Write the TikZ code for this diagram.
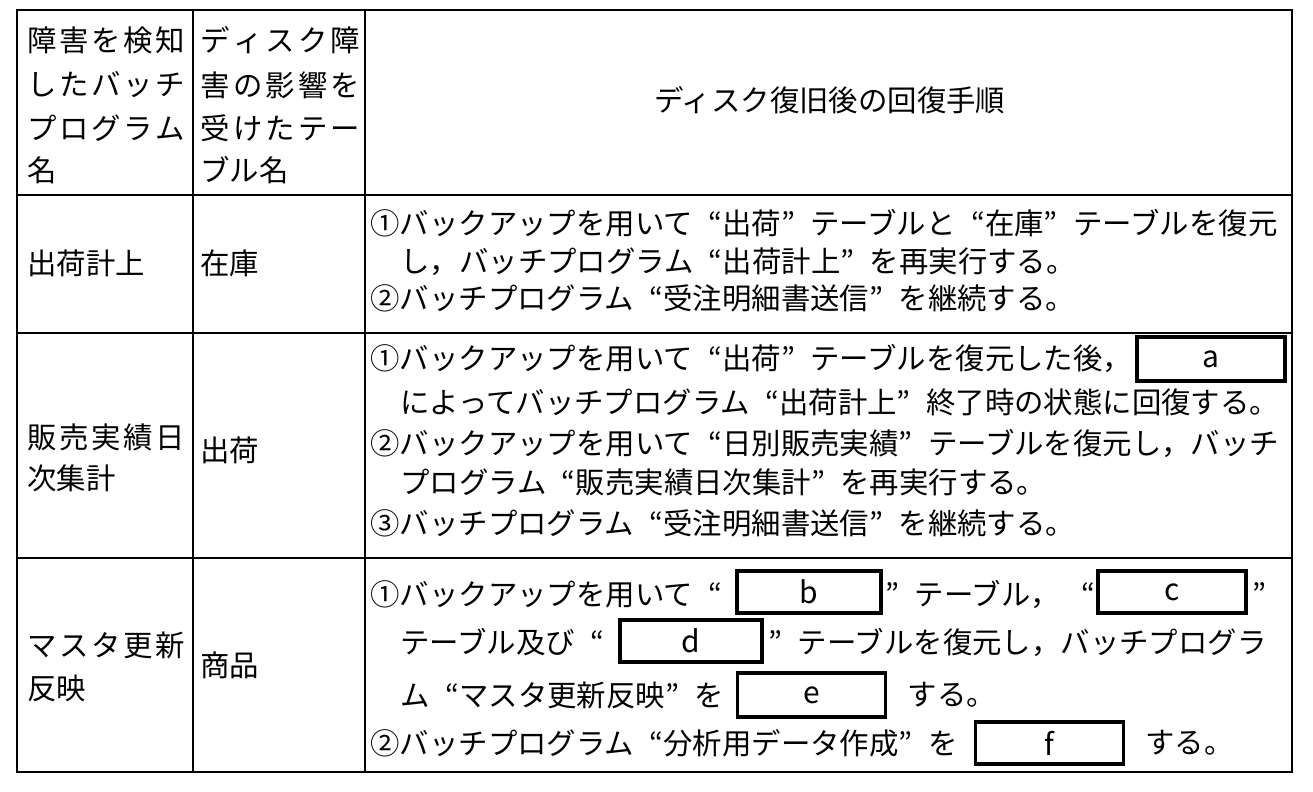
\documentclass[tikz,border=0pt]{standalone}
\usepackage{fontspec}
\setmainfont{Noto Sans CJK JP}
\newcommand{\spr}[2]{\makebox[#1][s]{#2}}
\newcommand{\lqq}{\makebox[1em][r]{“}}
\newcommand{\rqq}{\makebox[1em][l]{”}}
\begin{document}
\begin{tikzpicture}[x=0.5pt,y=-0.5pt,
  tx/.style={anchor=west,inner sep=0pt,font=\fontsize{14.7pt}{16pt}\selectfont},
  blank/.style={draw,line width=1.6pt,inner sep=0pt,font=\fontsize{15pt}{16pt}\selectfont}]
\useasboundingbox (0,0) rectangle (1313,792);
\draw[line width=0.8pt] (17,10) rectangle (1292,772);
\draw[line width=0.8pt] (193,10) -- (193,772) (365,10) -- (365,772)
  (17,195) -- (1292,195) (17,333) -- (1292,333) (17,558) -- (1292,558);
% header
\node[tx] (h1a) at (27,40) {\spr{79pt}{障\hfill 害\hfill を\hfill 検\hfill 知}};
\node[tx] (h1b) at (27,85) {\spr{79pt}{し\hfill た\hfill バ\hfill ッ\hfill チ}};
\node[tx] (h1c) at (27,128) {\spr{79pt}{プ\hfill ロ\hfill グ\hfill ラ\hfill ム}};
\node[tx] (h1d) at (27,170) {名};
\node[tx] (h2a) at (200,40) {\spr{80pt}{デ\hfill ィ\hfill ス\hfill ク\hfill 障}};
\node[tx] (h2b) at (200,85) {\spr{80pt}{害\hfill の\hfill 影\hfill 響\hfill を}};
\node[tx] (h2c) at (200,128) {\spr{80pt}{受\hfill け\hfill た\hfill テ\hfill ー}};
\node[tx] (h2d) at (200,170) {ブル名};
\node[tx,anchor=center] (h3) at (830,100) {ディスク復旧後の回復手順};
% row 1
\node[tx] (r1a) at (27,263) {出荷計上};
\node[tx] (r1b) at (200,263) {在庫};
\node[tx] (r1l1) at (370,223) {①バックアップを用いて\lqq 出荷\rqq テーブルと\lqq 在庫\rqq テーブルを復元};
\node[tx] (r1l2) at (400,262) {し，バッチプログラム\lqq 出荷計上\rqq を再実行する。};
\node[tx] (r1l3) at (370,298) {②バッチプログラム\lqq 受注明細書送信\rqq を継続する。};
% row 2
\node[tx] (r2a) at (27,437) {\spr{79pt}{販\hfill 売\hfill 実\hfill 績\hfill 日}};
\node[tx] (r2b) at (27,478) {次集計};
\node[tx] (r2c) at (200,450) {出荷};
\node[tx] (r2l1) at (370,358) {①バックアップを用いて\lqq 出荷\rqq テーブルを復元した後，};
\node[blank,minimum width=74pt,minimum height=22pt] (ba) at (1211,359) {a};
\node[tx] (r2l2) at (400,402) {によってバッチプログラム\lqq 出荷計上\rqq 終了時の状態に回復する。};
\node[tx] (r2l3) at (370,443) {②バックアップを用いて\lqq 日別販売実績\rqq テーブルを復元し，バッチ};
\node[tx] (r2l4) at (400,482) {プログラム\lqq 販売実績日次集計\rqq を再実行する。};
\node[tx] (r2l5) at (370,523) {③バッチプログラム\lqq 受注明細書送信\rqq を継続する。};
% row 3
\node[tx] (r3a) at (27,645) {\spr{79pt}{マ\hfill ス\hfill タ\hfill 更\hfill 新}};
\node[tx] (r3b) at (27,688) {反映};
\node[tx] (r3c) at (200,665) {商品};
\node[tx] (r3l1a) at (370,594) {①バックアップを用いて\lqq};
\node[blank,minimum width=72pt,minimum height=21pt] (bb) at (809,592) {b};
\node[tx] (r3l1b) at (885,594) {\rqq テーブル，};
\node[tx,anchor=east] (r3l1q) at (1096,594) {\lqq};
\node[blank,minimum width=74pt,minimum height=21pt] (bc) at (1172,592) {c};
\node[tx] (r3l1c) at (1252,594) {\rqq};
\node[tx] (r3l2a) at (400,642) {テーブル及び\lqq};
\node[blank,minimum width=71pt,minimum height=21pt] (bd) at (691,641) {d};
\node[tx] (r3l2b) at (768,642) {\rqq テーブルを復元し，バッチプログラ};
\node[tx] (r3l3a) at (400,695) {ム\lqq マスタ更新反映\rqq を};
\node[blank,anchor=west,minimum width=74pt,minimum height=22pt] (be) at ([xshift=6]r3l3a.east) {e};
\node[tx] (r3l3b) at ([xshift=10]be.east) {する。};
\node[tx] (r3l4a) at (370,743) {②バッチプログラム\lqq 分析用データ作成\rqq を};
\node[blank,anchor=west,minimum width=74pt,minimum height=21pt] (bf) at ([xshift=8]r3l4a.east) {f};
\node[tx] (r3l4b) at ([xshift=10]bf.east) {する。};
\end{tikzpicture}
\end{document}
